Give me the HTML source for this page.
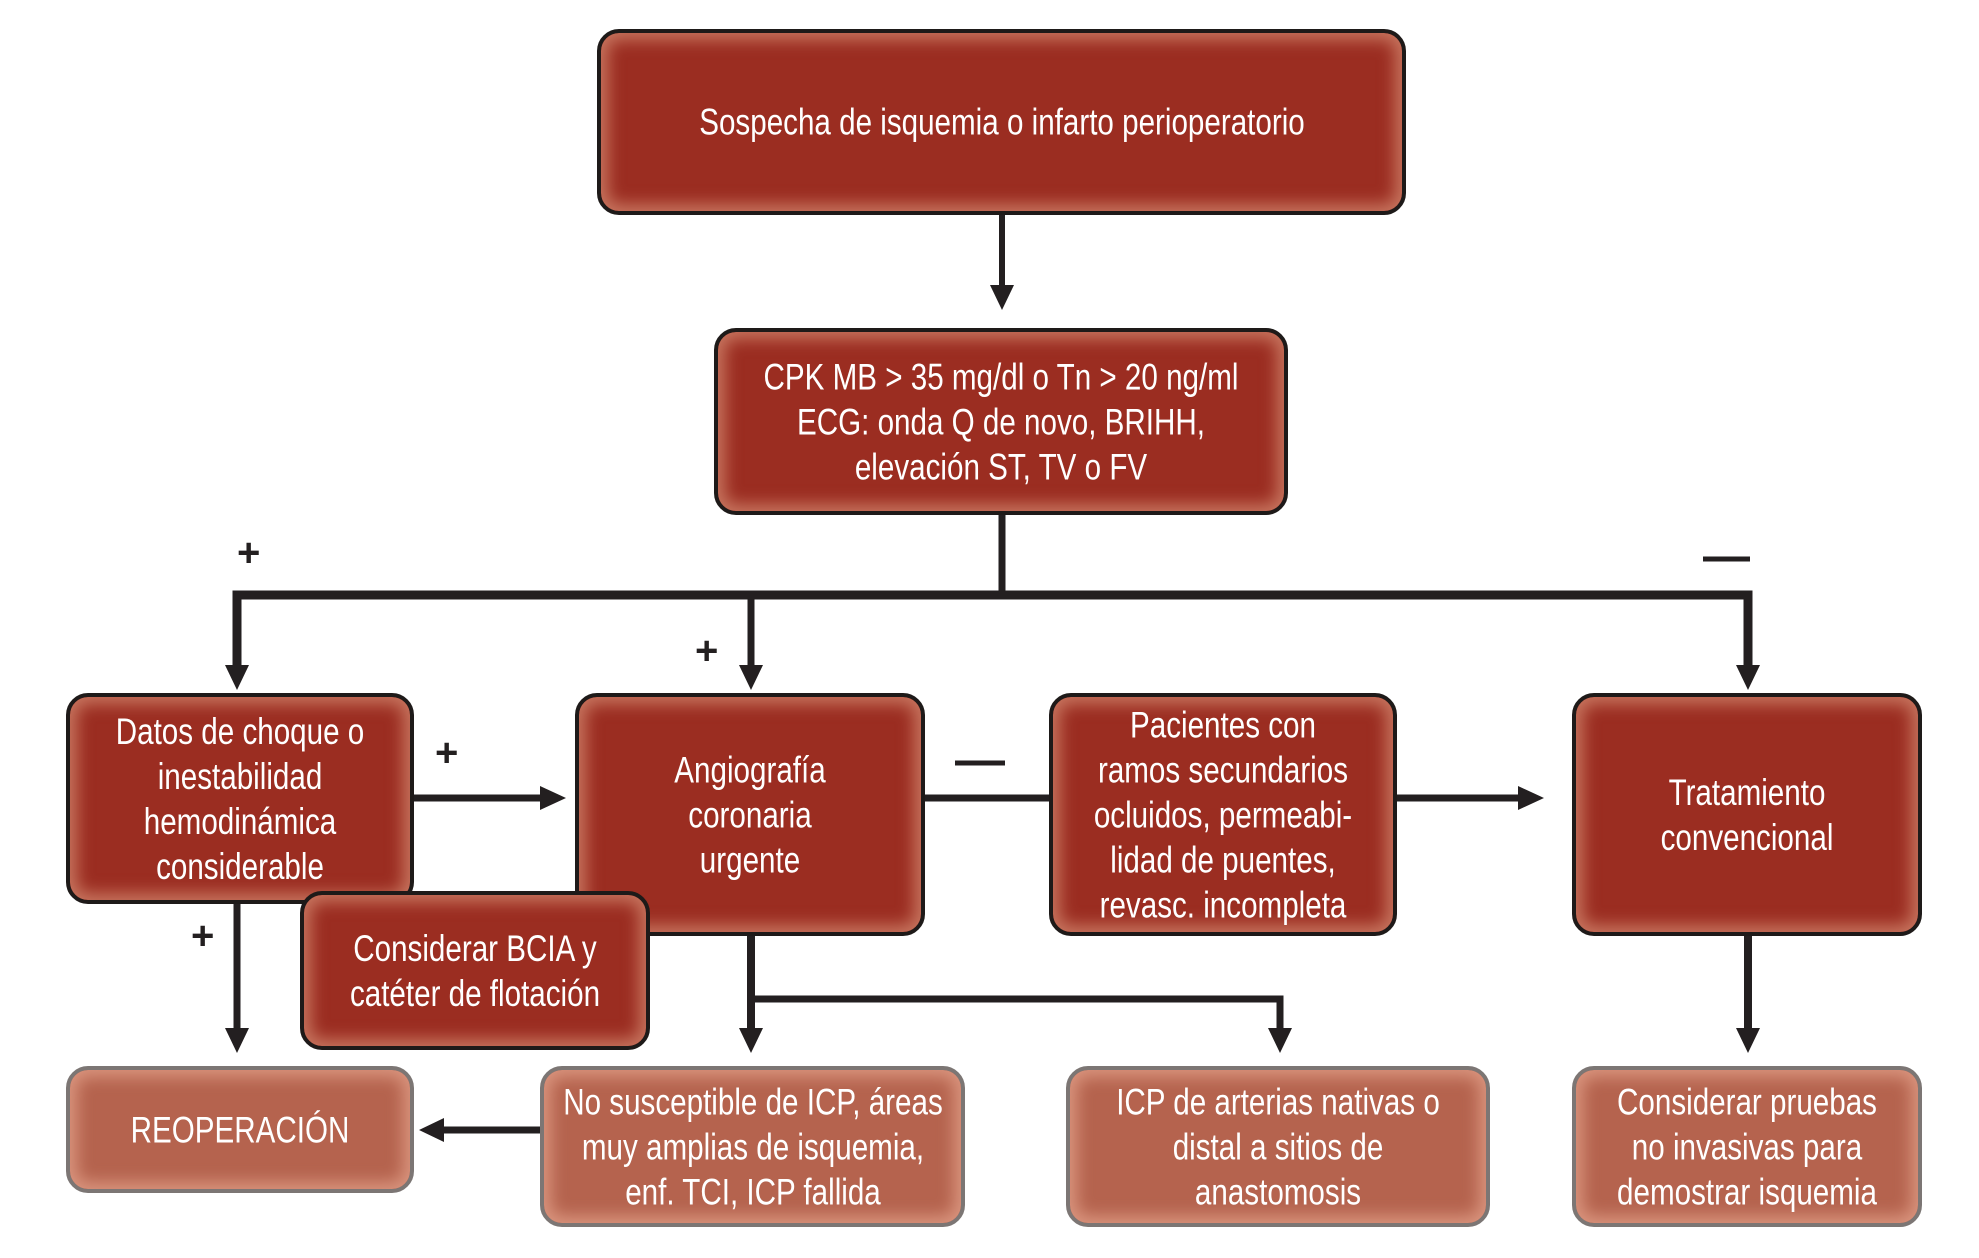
<!DOCTYPE html>
<html><head><meta charset="utf-8"><style>
html,body{margin:0;padding:0;background:#fff;}
body{width:1979px;height:1258px;position:relative;overflow:hidden;font-family:"Liberation Sans",Arial,sans-serif;}
.b{position:absolute;box-sizing:border-box;border-radius:22px;}
.d{background:#9b2d21;border:4px solid #1e1a19;box-shadow:inset 0 0 16px 7px rgba(214,140,115,.75);}
.l{background:#b5634e;border:4px solid #7c7674;box-shadow:inset 0 0 16px 7px rgba(226,160,138,.8);}
.t{position:absolute;left:50%;top:50%;transform:translate(-50%,-50%) scaleX(.8);white-space:nowrap;color:#fff;font-size:37px;line-height:45px;text-align:center;}
svg{position:absolute;left:0;top:0;}
.s{position:absolute;font-size:40px;color:#231f20;font-weight:bold;line-height:1;}
</style></head><body>
<svg width="1979" height="1258">
<defs><marker id="a" markerWidth="10" markerHeight="10" refX="9" refY="5" orient="auto" markerUnits="userSpaceOnUse" viewBox="0 0 10 10"></marker></defs>
<g stroke="#231f20" fill="none">
<line x1="1002" y1="212" x2="1002" y2="290" stroke-width="6"/>
<line x1="1002" y1="512" x2="1002" y2="597" stroke-width="7"/>
<polyline points="237,680 237,595 1748,595 1748,680" stroke-width="9"/>
<line x1="751" y1="595" x2="751" y2="678" stroke-width="7"/>
<line x1="414" y1="798" x2="550" y2="798" stroke-width="7"/>
<line x1="925" y1="798" x2="1049" y2="798" stroke-width="7"/>
<line x1="1397" y1="798" x2="1530" y2="798" stroke-width="7"/>
<line x1="237" y1="904" x2="237" y2="1040" stroke-width="7"/>
<line x1="751" y1="936" x2="751" y2="1040" stroke-width="8"/>
<polyline points="751,999 1280,999 1280,1040" stroke-width="7"/>
<line x1="540" y1="1130" x2="432" y2="1130" stroke-width="7"/>
<line x1="1748" y1="936" x2="1748" y2="1040" stroke-width="8"/>
<line x1="955" y1="763" x2="1005" y2="763" stroke-width="5"/>
<line x1="1703" y1="559" x2="1750" y2="559" stroke-width="5"/>
</g>
<g fill="#231f20">
<polygon points="990,285 1014,285 1002,310"/>
<polygon points="225,665 249,665 237,690"/>
<polygon points="739,665 763,665 751,690"/>
<polygon points="1736,665 1760,665 1748,690"/>
<polygon points="540,786 540,810 566,798"/>
<polygon points="1518,786 1518,810 1544,798"/>
<polygon points="225,1028 249,1028 237,1053"/>
<polygon points="739,1028 763,1028 751,1053"/>
<polygon points="1268,1028 1292,1028 1280,1053"/>
<polygon points="1736,1028 1760,1028 1748,1053"/>
<polygon points="444,1118 444,1142 419,1130"/>
</g>
</svg>
<div class="s" style="left:237px;top:533px">+</div>
<div class="s" style="left:695px;top:631px">+</div>
<div class="s" style="left:435px;top:733px">+</div>
<div class="s" style="left:191px;top:916px">+</div>

<div class="b d" style="left:597px;top:29px;width:809px;height:186px"><div class="t">Sospecha de isquemia o infarto perioperatorio</div></div>
<div class="b d" style="left:714px;top:328px;width:574px;height:187px"><div class="t">CPK MB &gt; 35 mg/dl o Tn &gt; 20 ng/ml<br>ECG: onda Q de novo, BRIHH,<br>elevación ST, TV o FV</div></div>
<div class="b d" style="left:66px;top:693px;width:348px;height:211px"><div class="t">Datos de choque o<br>inestabilidad<br>hemodinámica<br>considerable</div></div>
<div class="b d" style="left:575px;top:693px;width:350px;height:243px"><div class="t">Angiografía<br>coronaria<br>urgente</div></div>
<div class="b d" style="left:1049px;top:693px;width:348px;height:243px"><div class="t">Pacientes con<br>ramos secundarios<br>ocluidos, permeabi-<br>lidad de puentes,<br>revasc. incompleta</div></div>
<div class="b d" style="left:1572px;top:693px;width:350px;height:243px"><div class="t">Tratamiento<br>convencional</div></div>
<div class="b d" style="left:300px;top:891px;width:350px;height:159px"><div class="t">Considerar BCIA y<br>catéter de flotación</div></div>
<div class="b l" style="left:66px;top:1066px;width:348px;height:127px"><div class="t">REOPERACIÓN</div></div>
<div class="b l" style="left:540px;top:1066px;width:425px;height:161px"><div class="t">No susceptible de ICP, áreas<br>muy amplias de isquemia,<br>enf. TCI, ICP fallida</div></div>
<div class="b l" style="left:1066px;top:1066px;width:424px;height:161px"><div class="t">ICP de arterias nativas o<br>distal a sitios de<br>anastomosis</div></div>
<div class="b l" style="left:1572px;top:1066px;width:350px;height:161px"><div class="t">Considerar pruebas<br>no invasivas para<br>demostrar isquemia</div></div>
</body></html>
